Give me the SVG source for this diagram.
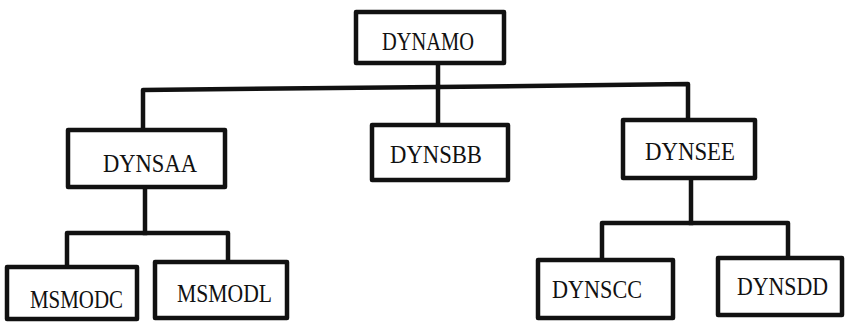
<svg xmlns="http://www.w3.org/2000/svg" width="845" height="324" viewBox="0 0 845 324">
<style>
.box{fill:#fff;stroke:#111;stroke-width:4.5;stroke-linejoin:round}
.ln{fill:none;stroke:#111;stroke-width:4.5;stroke-linejoin:round;stroke-linecap:square}
text{font-family:"Liberation Serif","Times New Roman",serif;font-size:26px;fill:#111}
</style>
<rect width="845" height="324" fill="#fff"/>
<g id="connectors">
<path class="ln" d="M438,63 V87"/>
<path class="ln" d="M143,130 V90 L438,87 L688,84 V120"/>
<path class="ln" d="M438,87 V125"/>
<path class="ln" d="M145,187 V233"/>
<path class="ln" d="M67,267 V233 H228 V262"/>
<path class="ln" d="M691,178 V223"/>
<path class="ln" d="M602,260 V223 H788 V258"/>
</g>
<g id="DYNAMO"><rect class="box" x="356" y="12" width="148" height="51"/><text x="382" y="50" textLength="92" lengthAdjust="spacingAndGlyphs">DYNAMO</text></g>
<g id="DYNSAA"><rect class="box" x="68" y="130" width="157" height="57"/><text x="103" y="172" textLength="94" lengthAdjust="spacingAndGlyphs">DYNSAA</text></g>
<g id="DYNSBB"><rect class="box" x="372" y="125" width="136" height="55"/><text x="390" y="163" textLength="92" lengthAdjust="spacingAndGlyphs">DYNSBB</text></g>
<g id="DYNSEE"><rect class="box" x="623" y="120" width="132" height="58"/><text x="645" y="160" textLength="90" lengthAdjust="spacingAndGlyphs">DYNSEE</text></g>
<g id="MSMODC"><rect class="box" x="7" y="267" width="130" height="52"/><text x="30" y="308" textLength="93" lengthAdjust="spacingAndGlyphs">MSMODC</text></g>
<g id="MSMODL"><rect class="box" x="155" y="262" width="132" height="56"/><text x="177" y="302" textLength="95" lengthAdjust="spacingAndGlyphs">MSMODL</text></g>
<g id="DYNSCC"><rect class="box" x="538" y="260" width="135" height="58"/><text x="552" y="298" textLength="90" lengthAdjust="spacingAndGlyphs">DYNSCC</text></g>
<g id="DYNSDD"><rect class="box" x="718" y="258" width="124" height="57"/><text x="737" y="295" textLength="91" lengthAdjust="spacingAndGlyphs">DYNSDD</text></g>
</svg>
